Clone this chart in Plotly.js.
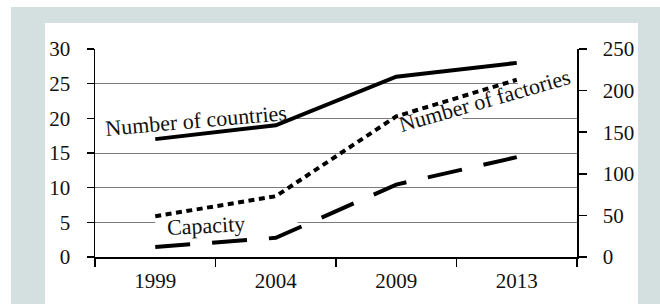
<!DOCTYPE html>
<html>
<head>
<meta charset="utf-8">
<script src="https://cdn.plot.ly/plotly-3.0.1.min.js"></script>
<style>
  html, body { margin: 0; padding: 0; background: #ffffff; }
  #wrap { position: relative; width: 660px; height: 304px; overflow: hidden; }
  #frame { position: absolute; left: 11px; top: 7px; width: 649px; height: 297px; background: #d3e0df; }
  #panel { position: absolute; left: 45px; top: 23px; width: 593px; height: 281px; background: #ffffff; }
  #chart { position: absolute; left: 0; top: 0; width: 660px; height: 304px; }
</style>
</head>
<body>
<div id="wrap">
  <div id="frame"></div>
  <div id="panel"></div>
  <div id="chart"></div>
</div>
<script>
// ---- data ----
const years = ['1999', '2004', '2009', '2013'];
const countries = [17, 19, 26, 28];       // left axis
const factories = [49, 73, 169, 213];     // right axis
const capacity = [12, 23, 87, 120];       // right axis
const leftTicks = [0, 5, 10, 15, 20, 25, 30];
const rightTicks = [0, 50, 100, 150, 200, 250];
const seriesNames = ['Number of countries', 'Number of factories', 'Capacity'];

const serif = 'Liberation Serif, Times New Roman, serif';

const traces = [
  { x: years, y: countries, name: seriesNames[0], type: 'scatter', mode: 'lines', yaxis: 'y',
    line: { color: '#000000', width: 4 } },
  { x: years, y: factories, name: seriesNames[1], type: 'scatter', mode: 'lines', yaxis: 'y2',
    line: { color: '#000000', width: 4, dash: '6px,4.5px' } },
  { x: years, y: capacity, name: seriesNames[2], type: 'scatter', mode: 'lines', yaxis: 'y2',
    line: { color: '#000000', width: 4, dash: '35px,22px' } }
];

// white masks that break the gridlines behind the labels (drawn under the traces)
function mask(x0, x1, yv) {
  return { type: 'rect', layer: 'between', xref: 'x', yref: 'y',
           x0: x0, x1: x1, y0: yv - 0.35, y1: yv + 0.35,
           fillcolor: '#ffffff', line: { width: 0 } };
}

const layout = {
  width: 660, height: 304,
  margin: { l: 95, r: 83, t: 49, b: 46.5, pad: 0 },
  paper_bgcolor: 'rgba(0,0,0,0)',
  plot_bgcolor: 'rgba(0,0,0,0)',
  showlegend: false,
  font: { family: serif, size: 21, color: '#111111' },
  xaxis: {
    type: 'category', range: [-0.5, 3.5],
    tickson: 'boundaries', ticks: 'outside', ticklen: 8, tickwidth: 1.5, tickcolor: '#000000',
    showline: true, linecolor: '#000000', linewidth: 1.5,
    showgrid: false, zeroline: false,
    tickfont: { family: serif, size: 21, color: '#111111' },
    ticklabelstandoff: 4
  },
  yaxis: {
    range: [0, 30], tickmode: 'array', tickvals: leftTicks, ticktext: leftTicks.map(String),
    ticks: 'outside', ticklen: 7, tickwidth: 1.5, tickcolor: '#000000',
    showline: true, linecolor: '#000000', linewidth: 1.5,
    showgrid: true, gridcolor: '#7c7c7c', gridwidth: 1,
    zeroline: false,
    tickfont: { family: serif, size: 21, color: '#111111' },
    ticklabelstandoff: 12
  },
  yaxis2: {
    overlaying: 'y', side: 'right',
    range: [0, 250], tickmode: 'array', tickvals: rightTicks, ticktext: rightTicks.map(String),
    ticks: 'outside', ticklen: 8, tickwidth: 1.5, tickcolor: '#000000',
    showline: true, linecolor: '#000000', linewidth: 1.5,
    showgrid: false, zeroline: false,
    tickfont: { family: serif, size: 21, color: '#111111' },
    ticklabelstandoff: 12
  },
  shapes: [
    mask(-0.5, 1.12, 20),
    mask(1.99, 2.55, 20),
    mask(3.01, 3.5, 25),
    mask(0.0, 1.18, 5)
  ],
  annotations: [
    { text: seriesNames[0], xref: 'paper', yref: 'paper', x: 0.2095, y: 0.6556,
      xanchor: 'center', yanchor: 'middle', textangle: -5, showarrow: false,
      font: { family: serif, size: 22, color: '#111111' } },
    { text: seriesNames[1], xref: 'paper', yref: 'paper', x: 0.8087, y: 0.7527,
      xanchor: 'center', yanchor: 'middle', textangle: -16, showarrow: false,
      font: { family: serif, size: 22, color: '#111111' } },
    { text: seriesNames[2], xref: 'paper', yref: 'paper', x: 0.2313, y: 0.150,
      xanchor: 'center', yanchor: 'middle', textangle: -3, showarrow: false,
      font: { family: serif, size: 22, color: '#111111' } }
  ]
};

Plotly.newPlot('chart', traces, layout, { displayModeBar: false, staticPlot: true });
</script>
</body>
</html>
